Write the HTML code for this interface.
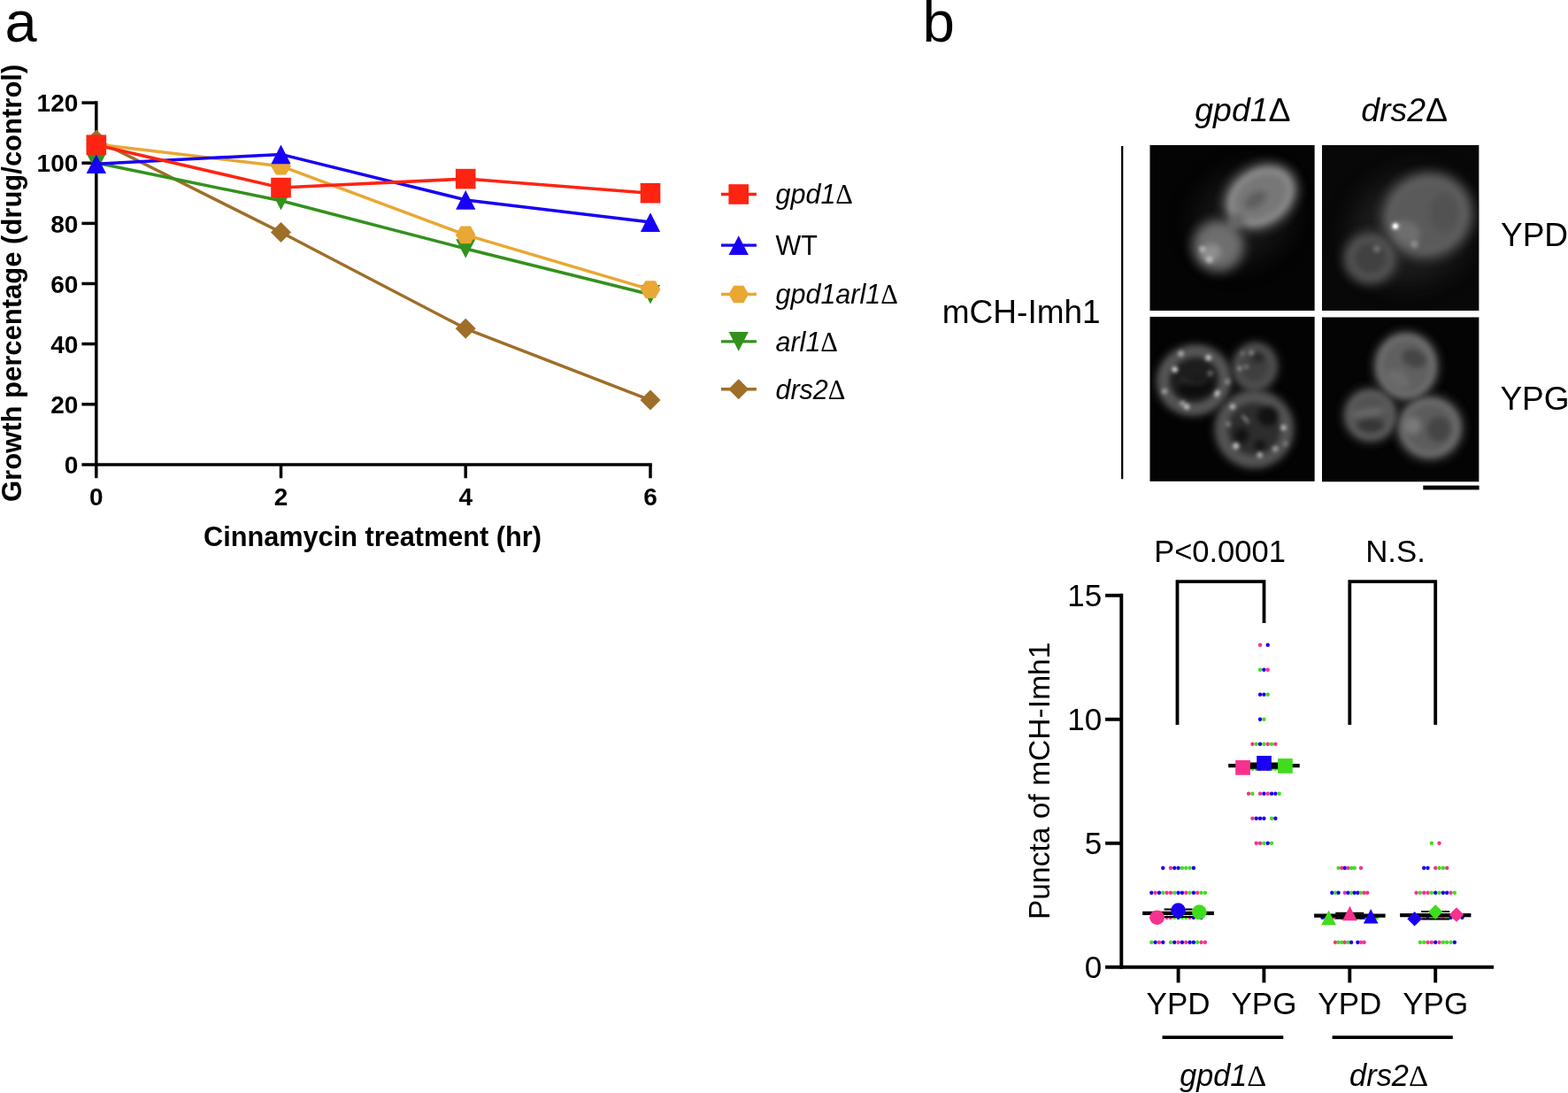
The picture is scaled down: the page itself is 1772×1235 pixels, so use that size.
<!DOCTYPE html>
<html lang="en"><head><meta charset="utf-8"><title>Figure</title>
<style>
html,body{margin:0;padding:0;background:#fff;}
body{width:1772px;height:1235px;overflow:hidden;}
svg{display:block;}
text{font-family:"Liberation Sans", sans-serif;fill:#000;}
.b{font-weight:bold;}
.i{font-style:italic;}
.sy{font-family:"Liberation Serif", serif;font-style:normal;}
</style></head><body>
<svg width="1772" height="1235" viewBox="0 0 1772 1235">
<rect x="0" y="0" width="1772" height="1235" fill="#ffffff"/>
<text x="5.5" y="47.3" font-size="65">a</text>
<text x="1042.6" y="47.3" font-size="65.5">b</text>
<g id="panelA">
<g stroke="#000" stroke-width="3.5" fill="none" stroke-linecap="butt">
<line x1="108.8" y1="114.3" x2="108.8" y2="540.3"/>
<line x1="92.4" y1="524.9" x2="736.8" y2="524.9"/>
<line x1="92.4" y1="456.8" x2="108.8" y2="456.8"/>
<line x1="92.4" y1="388.6" x2="108.8" y2="388.6"/>
<line x1="92.4" y1="320.5" x2="108.8" y2="320.5"/>
<line x1="92.4" y1="252.4" x2="108.8" y2="252.4"/>
<line x1="92.4" y1="184.2" x2="108.8" y2="184.2"/>
<line x1="92.4" y1="116.1" x2="108.8" y2="116.1"/>
<line x1="317.5" y1="524.9" x2="317.5" y2="540.3"/>
<line x1="526.2" y1="524.9" x2="526.2" y2="540.3"/>
<line x1="735.0" y1="524.9" x2="735.0" y2="540.3"/>
</g>
<polyline points="108.8,158.0 317.5,262.5 526.2,371.3 735.0,452.1" fill="none" stroke="#9f6e28" stroke-width="3.5" stroke-linejoin="round"/>
<polygon points="108.8,146.5 120.3,158.0 108.8,169.5 97.3,158.0" fill="#9f6e28"/>
<polygon points="317.5,251.0 329.0,262.5 317.5,274.0 306.0,262.5" fill="#9f6e28"/>
<polygon points="526.2,359.8 537.7,371.3 526.2,382.8 514.7,371.3" fill="#9f6e28"/>
<polygon points="735.0,440.6 746.5,452.1 735.0,463.6 723.5,452.1" fill="#9f6e28"/>
<polyline points="108.8,184.0 317.5,226.8 526.2,281.0 735.0,332.7" fill="none" stroke="#33911d" stroke-width="3.5" stroke-linejoin="round"/>
<polygon points="108.8,194.8 120.0,173.2 97.6,173.2" fill="#33911d"/>
<polygon points="317.5,237.6 328.6,216.0 306.4,216.0" fill="#33911d"/>
<polygon points="526.2,291.8 537.4,270.2 515.1,270.2" fill="#33911d"/>
<polygon points="735.0,343.5 746.1,321.9 723.9,321.9" fill="#33911d"/>
<polyline points="108.8,163.0 317.5,187.7 526.2,265.4 735.0,327.1" fill="none" stroke="#e9a733" stroke-width="3.5" stroke-linejoin="round"/>
<polygon points="120.1,163.0 114.5,172.8 103.2,172.8 97.5,163.0 103.1,153.2 114.5,153.2" fill="#e9a733"/>
<polygon points="328.8,187.7 323.1,197.5 311.9,197.5 306.2,187.7 311.9,177.9 323.1,177.9" fill="#e9a733"/>
<polygon points="537.5,265.4 531.9,275.2 520.6,275.2 514.9,265.4 520.6,255.6 531.9,255.6" fill="#e9a733"/>
<polygon points="746.3,327.1 740.6,336.9 729.4,336.9 723.7,327.1 729.4,317.3 740.6,317.3" fill="#e9a733"/>
<polyline points="108.8,185.2 317.5,174.4 526.2,225.9 735.0,251.1" fill="none" stroke="#1700f5" stroke-width="3.5" stroke-linejoin="round"/>
<polygon points="108.8,174.4 120.0,196.0 97.6,196.0" fill="#1700f5"/>
<polygon points="317.5,163.6 328.6,185.2 306.4,185.2" fill="#1700f5"/>
<polygon points="526.2,215.1 537.4,236.7 515.1,236.7" fill="#1700f5"/>
<polygon points="735.0,240.3 746.1,261.9 723.9,261.9" fill="#1700f5"/>
<polyline points="108.8,163.7 317.5,212.1 526.2,202.1 735.0,218.2" fill="none" stroke="#fd2412" stroke-width="3.5" stroke-linejoin="round"/>
<rect x="97.5" y="152.4" width="22.6" height="22.6" fill="#fd2412"/>
<rect x="306.2" y="200.8" width="22.6" height="22.6" fill="#fd2412"/>
<rect x="514.9" y="190.8" width="22.6" height="22.6" fill="#fd2412"/>
<rect x="723.7" y="206.9" width="22.6" height="22.6" fill="#fd2412"/>
<text class="b" x="88.3" y="535.1" font-size="28" text-anchor="end">0</text>
<text class="b" x="88.3" y="467.0" font-size="28" text-anchor="end">20</text>
<text class="b" x="88.3" y="398.8" font-size="28" text-anchor="end">40</text>
<text class="b" x="88.3" y="330.7" font-size="28" text-anchor="end">60</text>
<text class="b" x="88.3" y="262.6" font-size="28" text-anchor="end">80</text>
<text class="b" x="88.3" y="194.4" font-size="28" text-anchor="end">100</text>
<text class="b" x="88.3" y="126.3" font-size="28" text-anchor="end">120</text>
<text class="b" x="108.8" y="571" font-size="28" text-anchor="middle">0</text>
<text class="b" x="317.5" y="571" font-size="28" text-anchor="middle">2</text>
<text class="b" x="526.2" y="571" font-size="28" text-anchor="middle">4</text>
<text class="b" x="735.0" y="571" font-size="28" text-anchor="middle">6</text>
<text class="b" x="421" y="617.3" font-size="30.7" text-anchor="middle">Cinnamycin treatment (hr)</text>
<text class="b" transform="translate(23.6,319.9) rotate(-90)" font-size="31" text-anchor="middle">Growth percentage (drug/control)</text>
<line x1="814.9" y1="219.5" x2="854.9" y2="219.5" stroke="#fd2412" stroke-width="3.4"/>
<rect x="823.4" y="208.2" width="22.6" height="22.6" fill="#fd2412"/>
<text x="876.5" y="230.4" font-size="30.5"><tspan class="i">gpd1</tspan><tspan class="sy">Δ</tspan></text>
<line x1="814.9" y1="277.1" x2="854.9" y2="277.1" stroke="#1700f5" stroke-width="3.4"/>
<polygon points="834.7,266.3 845.9,287.9 823.6,287.9" fill="#1700f5"/>
<text x="876.5" y="288.0" font-size="30.5">WT</text>
<line x1="814.9" y1="332.5" x2="854.9" y2="332.5" stroke="#e9a733" stroke-width="3.4"/>
<polygon points="846.0,332.5 840.4,342.3 829.1,342.3 823.4,332.5 829.1,322.7 840.4,322.7" fill="#e9a733"/>
<text x="876.5" y="343.4" font-size="30.5"><tspan class="i">gpd1arl1</tspan><tspan class="sy">Δ</tspan></text>
<line x1="814.9" y1="385.9" x2="854.9" y2="385.9" stroke="#33911d" stroke-width="3.4"/>
<polygon points="834.7,396.7 845.9,375.1 823.6,375.1" fill="#33911d"/>
<text x="876.5" y="396.8" font-size="30.5"><tspan class="i">arl1</tspan><tspan class="sy">Δ</tspan></text>
<line x1="814.9" y1="439.8" x2="854.9" y2="439.8" stroke="#9f6e28" stroke-width="3.4"/>
<polygon points="834.7,428.3 846.2,439.8 834.7,451.3 823.2,439.8" fill="#9f6e28"/>
<text x="876.5" y="450.7" font-size="30.5"><tspan class="i">drs2</tspan><tspan class="sy">Δ</tspan></text>
</g>
<g id="micro">
<defs>
<filter id="bl12" color-interpolation-filters="sRGB" x="-50%" y="-50%" width="200%" height="200%"><feGaussianBlur stdDeviation="14"/></filter>
<filter id="bl5" color-interpolation-filters="sRGB" x="-30%" y="-30%" width="160%" height="160%"><feGaussianBlur stdDeviation="5"/></filter>
<filter id="bl4" color-interpolation-filters="sRGB" x="-30%" y="-30%" width="160%" height="160%"><feGaussianBlur stdDeviation="3.6"/></filter>
<filter id="bl3" color-interpolation-filters="sRGB" x="-30%" y="-30%" width="160%" height="160%"><feGaussianBlur stdDeviation="3.3"/></filter>
<filter id="bl2" color-interpolation-filters="sRGB" x="-100%" y="-100%" width="300%" height="300%"><feGaussianBlur stdDeviation="2.1"/></filter>
<filter id="bl1" color-interpolation-filters="sRGB" x="-100%" y="-100%" width="300%" height="300%"><feGaussianBlur stdDeviation="1.2"/></filter>
<clipPath id="cp1"><rect x="1299.3" y="163.9" width="186.5" height="187.2"/></clipPath>
<clipPath id="cp2"><rect x="1494.0" y="163.9" width="177.6" height="187.2"/></clipPath>
<clipPath id="cp3"><rect x="1299.3" y="357.7" width="186.5" height="186.2"/></clipPath>
<clipPath id="cp4"><rect x="1494.0" y="358.3" width="177.6" height="186.3"/></clipPath>
</defs>
<g clip-path="url(#cp1)">
<rect x="1299.3" y="163.9" width="186.5" height="187.2" fill="#040404"/>
<ellipse cx="1405.0" cy="245.0" rx="60.0" ry="50.0" transform="rotate(-40 1405.0 245.0)" fill="#191919" opacity="0.80" filter="url(#bl12)"/>
<ellipse cx="1424.5" cy="222.4" rx="48.0" ry="38.5" transform="rotate(-33 1424.5 222.4)" fill="#454545" opacity="0.90" filter="url(#bl5)"/>
<ellipse cx="1377.0" cy="277.6" rx="33.0" ry="33.0" fill="#434343" opacity="0.90" filter="url(#bl5)"/>
<g filter="url(#bl4)">
<ellipse cx="1424.5" cy="222.4" rx="36.5" ry="27.0" transform="rotate(-33 1424.5 222.4)" fill="#777777" stroke="#8b8b8b" stroke-width="8.0"/>
<ellipse cx="1419.0" cy="226.0" rx="14.0" ry="8.0" transform="rotate(-33 1419.0 226.0)" fill="#5e5e5e"/>
<ellipse cx="1377.0" cy="277.6" rx="22.5" ry="22.5" fill="#6e6e6e" stroke="#656565" stroke-width="6.0"/>
<ellipse cx="1368.0" cy="286.0" rx="12.0" ry="10.0" transform="rotate(-30 1368.0 286.0)" fill="#8f8f8f"/>
<ellipse cx="1397.0" cy="250.0" rx="10.0" ry="9.0" fill="#676767"/>
</g>
<ellipse cx="1358.6" cy="281.6" rx="3.0" ry="3.0" fill="#ffffff" opacity="0.59" filter="url(#bl2)"/>
<ellipse cx="1366.8" cy="293.4" rx="3.4" ry="3.4" fill="#ffffff" opacity="0.51" filter="url(#bl2)"/>
</g>
<g clip-path="url(#cp2)">
<rect x="1494.0" y="163.9" width="177.6" height="187.2" fill="#080808"/>
<ellipse cx="1595.0" cy="258.0" rx="70.0" ry="62.0" transform="rotate(-25 1595.0 258.0)" fill="#222222" opacity="0.80" filter="url(#bl12)"/>
<ellipse cx="1612.7" cy="243.7" rx="55.5" ry="51.5" transform="rotate(-20 1612.7 243.7)" fill="#414141" opacity="0.90" filter="url(#bl5)"/>
<ellipse cx="1548.8" cy="291.8" rx="33.5" ry="32.5" fill="#3a3a3a" opacity="0.90" filter="url(#bl5)"/>
<g filter="url(#bl4)">
<ellipse cx="1612.7" cy="243.7" rx="43.5" ry="40.0" transform="rotate(-25 1612.7 243.7)" fill="#5a5a5a" stroke="#5e5e5e" stroke-width="8.0"/>
<ellipse cx="1548.8" cy="291.8" rx="22.5" ry="21.5" fill="#414141" stroke="#535353" stroke-width="8.0"/>
<ellipse cx="1590.0" cy="262.0" rx="16.0" ry="12.0" transform="rotate(30 1590.0 262.0)" fill="#6e6e6e"/>
<ellipse cx="1632.0" cy="240.0" rx="16.0" ry="22.0" fill="#525252"/>
</g>
<ellipse cx="1576.9" cy="255.5" rx="3.6" ry="3.6" fill="#ffffff" filter="url(#bl2)"/>
<ellipse cx="1576.9" cy="255.5" rx="2.2" ry="2.2" fill="#ffffff" filter="url(#bl1)"/>
<ellipse cx="1598.5" cy="276.1" rx="4.2" ry="4.2" fill="#ffffff" opacity="0.29" filter="url(#bl2)"/>
<ellipse cx="1555.9" cy="281.3" rx="3.8" ry="3.8" fill="#ffffff" opacity="0.27" filter="url(#bl2)"/>
</g>
<g clip-path="url(#cp3)">
<rect x="1299.3" y="357.7" width="186.5" height="186.2" fill="#030303"/>
<ellipse cx="1349.5" cy="429.6" rx="45.0" ry="42.0" transform="rotate(-15 1349.5 429.6)" fill="#313131" opacity="0.90" filter="url(#bl5)"/>
<ellipse cx="1418.2" cy="414.6" rx="28.0" ry="30.0" transform="rotate(10 1418.2 414.6)" fill="#313131" opacity="0.90" filter="url(#bl5)"/>
<ellipse cx="1417.4" cy="484.8" rx="47.0" ry="46.5" fill="#313131" opacity="0.90" filter="url(#bl5)"/>
<g filter="url(#bl3)">
<ellipse cx="1349.5" cy="429.6" rx="34.5" ry="32.0" transform="rotate(-15 1349.5 429.6)" fill="#1d1d1d" stroke="#555555" stroke-width="13.0"/>
<ellipse cx="1418.2" cy="414.6" rx="19.5" ry="21.5" transform="rotate(10 1418.2 414.6)" fill="#3f3f3f" stroke="#4e4e4e" stroke-width="9.0"/>
<ellipse cx="1417.4" cy="484.8" rx="36.5" ry="36.0" fill="#2d2d2d" stroke="#535353" stroke-width="13.0"/>
<ellipse cx="1422.0" cy="404.0" rx="7.0" ry="6.0" fill="#262626"/>
<ellipse cx="1352.0" cy="438.0" rx="20.0" ry="10.0" transform="rotate(-10 1352.0 438.0)" fill="#0c0c0c"/>
<ellipse cx="1403.0" cy="492.0" rx="8.0" ry="9.0" fill="#121212"/>
<ellipse cx="1433.0" cy="470.0" rx="12.0" ry="11.0" fill="#121212"/>
<ellipse cx="1424.0" cy="503.0" rx="6.0" ry="6.0" fill="#121212"/>
<path d="M1334 428 Q1348 437 1364 430" stroke="#383838" stroke-width="3" fill="none"/>
</g>
<ellipse cx="1334.5" cy="399.6" rx="3.0" ry="3.0" fill="#ffffff" opacity="0.67" filter="url(#bl2)"/>
<ellipse cx="1365.6" cy="404.3" rx="3.0" ry="3.0" fill="#ffffff" opacity="0.84" filter="url(#bl2)"/>
<ellipse cx="1327.7" cy="417.4" rx="3.0" ry="3.0" fill="#ffffff" filter="url(#bl2)"/>
<ellipse cx="1367.6" cy="421.7" rx="3.0" ry="3.0" fill="#ffffff" opacity="0.37" filter="url(#bl2)"/>
<ellipse cx="1387.4" cy="431.2" rx="3.0" ry="3.0" fill="#ffffff" opacity="0.39" filter="url(#bl2)"/>
<ellipse cx="1316.0" cy="442.2" rx="3.0" ry="3.0" fill="#ffffff" opacity="0.55" filter="url(#bl2)"/>
<ellipse cx="1336.4" cy="455.6" rx="3.0" ry="3.0" fill="#ffffff" opacity="0.51" filter="url(#bl2)"/>
<ellipse cx="1341.1" cy="459.6" rx="3.0" ry="3.0" fill="#ffffff" opacity="0.78" filter="url(#bl2)"/>
<ellipse cx="1375.5" cy="444.6" rx="2.2" ry="3.8" transform="rotate(25 1375.5 444.6)" fill="#ffffff" opacity="0.92" filter="url(#bl2)"/>
<ellipse cx="1414.2" cy="398.8" rx="2.3" ry="2.3" fill="#ffffff" opacity="0.59" filter="url(#bl2)"/>
<ellipse cx="1404.0" cy="399.1" rx="2.3" ry="2.3" fill="#ffffff" opacity="0.31" filter="url(#bl2)"/>
<ellipse cx="1401.1" cy="416.2" rx="2.3" ry="2.3" fill="#ffffff" opacity="0.59" filter="url(#bl2)"/>
<ellipse cx="1408.4" cy="414.6" rx="2.3" ry="2.3" fill="#ffffff" opacity="0.43" filter="url(#bl2)"/>
<ellipse cx="1392.9" cy="459.6" rx="3.0" ry="3.0" fill="#ffffff" opacity="0.71" filter="url(#bl2)"/>
<ellipse cx="1388.2" cy="479.3" rx="3.0" ry="3.0" fill="#ffffff" opacity="0.35" filter="url(#bl2)"/>
<ellipse cx="1450.5" cy="483.3" rx="3.0" ry="3.0" fill="#ffffff" opacity="0.71" filter="url(#bl2)"/>
<ellipse cx="1441.1" cy="507.0" rx="3.0" ry="3.0" fill="#ffffff" opacity="0.55" filter="url(#bl2)"/>
<ellipse cx="1423.7" cy="514.1" rx="3.0" ry="3.0" fill="#ffffff" opacity="0.69" filter="url(#bl2)"/>
<ellipse cx="1452.9" cy="501.4" rx="3.0" ry="3.0" fill="#ffffff" opacity="0.27" filter="url(#bl2)"/>
<ellipse cx="1396.8" cy="503.8" rx="3.6" ry="3.6" fill="#ffffff" opacity="0.75" filter="url(#bl2)"/>
<ellipse cx="1407.5" cy="473.5" rx="1.6" ry="6.5" transform="rotate(-42 1407.5 473.5)" fill="#ffffff" opacity="0.47" filter="url(#bl2)"/>
</g>
<g clip-path="url(#cp4)">
<rect x="1494.0" y="358.3" width="177.6" height="186.3" fill="#040404"/>
<ellipse cx="1589.1" cy="413.8" rx="39.0" ry="41.5" fill="#3c3c3c" opacity="0.90" filter="url(#bl5)"/>
<ellipse cx="1548.8" cy="469.1" rx="33.0" ry="33.0" fill="#363636" opacity="0.90" filter="url(#bl5)"/>
<ellipse cx="1615.9" cy="483.3" rx="40.0" ry="39.0" fill="#3c3c3c" opacity="0.90" filter="url(#bl5)"/>
<g filter="url(#bl3)">
<ellipse cx="1589.1" cy="413.8" rx="30.5" ry="33.0" fill="#606060" stroke="#6e6e6e" stroke-width="7.0"/>
<ellipse cx="1548.8" cy="469.1" rx="24.5" ry="24.5" fill="#515151" stroke="#5c5c5c" stroke-width="7.0"/>
<ellipse cx="1615.9" cy="483.3" rx="31.0" ry="30.0" fill="#5c5c5c" stroke="#6c6c6c" stroke-width="7.0"/>
<ellipse cx="1598.0" cy="405.0" rx="14.0" ry="10.0" transform="rotate(20 1598.0 405.0)" fill="#454545"/>
<ellipse cx="1580.0" cy="428.0" rx="14.0" ry="9.0" transform="rotate(35 1580.0 428.0)" fill="#6c6c6c"/>
<ellipse cx="1547.0" cy="466.0" rx="20.0" ry="5.0" transform="rotate(-8 1547.0 466.0)" fill="#676767"/>
<ellipse cx="1549.0" cy="481.0" rx="15.0" ry="8.0" fill="#363636"/>
<ellipse cx="1597.0" cy="481.0" rx="9.0" ry="10.0" fill="#797979"/>
<ellipse cx="1626.0" cy="485.0" rx="13.0" ry="14.0" fill="#454545"/>
</g>
</g>
<rect x="1608.3" y="548.6" width="63.3" height="4.8" fill="#000"/>
<line x1="1268.2" y1="165" x2="1268.2" y2="541.2" stroke="#000" stroke-width="2.2"/>
<text x="1404.4" y="136.7" font-size="37.4" text-anchor="middle"><tspan class="i">gpd1</tspan>Δ</text>
<text x="1587.2" y="136.7" font-size="37.4" text-anchor="middle"><tspan class="i">drs2</tspan>Δ</text>
<text x="1064.8" y="365.2" font-size="37">mCH-Imh1</text>
<text x="1696.0" y="277.6" font-size="37">YPD</text>
<text x="1695.4" y="462.8" font-size="37">YPG</text>
</g>
<g id="dotplot">
<g stroke="#000" stroke-width="3.9" fill="none">
<line x1="1267.3" y1="670.8" x2="1267.3" y2="1094.8"/>
<line x1="1249.1" y1="1092.8" x2="1688" y2="1092.8"/>
<line x1="1249.1" y1="952.8" x2="1267.3" y2="952.8"/>
<line x1="1249.1" y1="812.8" x2="1267.3" y2="812.8"/>
<line x1="1249.1" y1="672.8" x2="1267.3" y2="672.8"/>
<line x1="1331.6" y1="1092.8" x2="1331.6" y2="1110.4"/>
<line x1="1428.4" y1="1092.8" x2="1428.4" y2="1110.4"/>
<line x1="1525.3" y1="1092.8" x2="1525.3" y2="1110.4"/>
<line x1="1622.2" y1="1092.8" x2="1622.2" y2="1110.4"/>
</g>
<circle cx="1314.28" cy="980.80" r="2.2" fill="#1a00f0"/>
<circle cx="1322.94" cy="980.80" r="2.2" fill="#f7318d"/>
<circle cx="1327.27" cy="980.80" r="2.2" fill="#1a00f0"/>
<circle cx="1331.60" cy="980.80" r="2.2" fill="#1a00f0"/>
<circle cx="1335.93" cy="980.80" r="2.2" fill="#40dd1e"/>
<circle cx="1340.26" cy="980.80" r="2.2" fill="#40dd1e"/>
<circle cx="1344.59" cy="980.80" r="2.2" fill="#40dd1e"/>
<circle cx="1348.92" cy="980.80" r="2.2" fill="#1a00f0"/>
<circle cx="1301.29" cy="1008.80" r="2.2" fill="#1a00f0"/>
<circle cx="1305.62" cy="1008.80" r="2.2" fill="#f7318d"/>
<circle cx="1309.95" cy="1008.80" r="2.2" fill="#1a00f0"/>
<circle cx="1314.28" cy="1008.80" r="2.2" fill="#40dd1e"/>
<circle cx="1318.61" cy="1008.80" r="2.2" fill="#f7318d"/>
<circle cx="1322.94" cy="1008.80" r="2.2" fill="#f7318d"/>
<circle cx="1327.27" cy="1008.80" r="2.2" fill="#40dd1e"/>
<circle cx="1331.60" cy="1008.80" r="2.2" fill="#1a00f0"/>
<circle cx="1335.93" cy="1008.80" r="2.2" fill="#1a00f0"/>
<circle cx="1340.26" cy="1008.80" r="2.2" fill="#f7318d"/>
<circle cx="1344.59" cy="1008.80" r="2.2" fill="#40dd1e"/>
<circle cx="1348.92" cy="1008.80" r="2.2" fill="#1a00f0"/>
<circle cx="1353.25" cy="1008.80" r="2.2" fill="#f7318d"/>
<circle cx="1357.58" cy="1008.80" r="2.2" fill="#40dd1e"/>
<circle cx="1361.91" cy="1008.80" r="2.2" fill="#40dd1e"/>
<circle cx="1301.29" cy="1036.80" r="2.2" fill="#f7318d"/>
<circle cx="1305.62" cy="1036.80" r="2.2" fill="#40dd1e"/>
<circle cx="1309.95" cy="1036.80" r="2.2" fill="#1a00f0"/>
<circle cx="1314.28" cy="1036.80" r="2.2" fill="#40dd1e"/>
<circle cx="1318.61" cy="1036.80" r="2.2" fill="#f7318d"/>
<circle cx="1322.94" cy="1036.80" r="2.2" fill="#f7318d"/>
<circle cx="1327.27" cy="1036.80" r="2.2" fill="#40dd1e"/>
<circle cx="1331.60" cy="1036.80" r="2.2" fill="#1a00f0"/>
<circle cx="1335.93" cy="1036.80" r="2.2" fill="#40dd1e"/>
<circle cx="1340.26" cy="1036.80" r="2.2" fill="#40dd1e"/>
<circle cx="1344.59" cy="1036.80" r="2.2" fill="#f7318d"/>
<circle cx="1348.92" cy="1036.80" r="2.2" fill="#1a00f0"/>
<circle cx="1353.25" cy="1036.80" r="2.2" fill="#40dd1e"/>
<circle cx="1357.58" cy="1036.80" r="2.2" fill="#1a00f0"/>
<circle cx="1301.29" cy="1064.80" r="2.2" fill="#40dd1e"/>
<circle cx="1305.62" cy="1064.80" r="2.2" fill="#1a00f0"/>
<circle cx="1309.95" cy="1064.80" r="2.2" fill="#f7318d"/>
<circle cx="1314.28" cy="1064.80" r="2.2" fill="#1a00f0"/>
<circle cx="1322.94" cy="1064.80" r="2.2" fill="#40dd1e"/>
<circle cx="1327.27" cy="1064.80" r="2.2" fill="#1a00f0"/>
<circle cx="1331.60" cy="1064.80" r="2.2" fill="#f7318d"/>
<circle cx="1335.93" cy="1064.80" r="2.2" fill="#1a00f0"/>
<circle cx="1340.26" cy="1064.80" r="2.2" fill="#f7318d"/>
<circle cx="1344.59" cy="1064.80" r="2.2" fill="#1a00f0"/>
<circle cx="1348.92" cy="1064.80" r="2.2" fill="#1a00f0"/>
<circle cx="1353.25" cy="1064.80" r="2.2" fill="#40dd1e"/>
<circle cx="1357.58" cy="1064.80" r="2.2" fill="#f7318d"/>
<circle cx="1361.91" cy="1064.80" r="2.2" fill="#f7318d"/>
<circle cx="1424.07" cy="728.80" r="2.2" fill="#f7318d"/>
<circle cx="1432.73" cy="728.80" r="2.2" fill="#1a00f0"/>
<circle cx="1424.07" cy="756.80" r="2.2" fill="#40dd1e"/>
<circle cx="1428.40" cy="756.80" r="2.2" fill="#1a00f0"/>
<circle cx="1432.73" cy="756.80" r="2.2" fill="#f7318d"/>
<circle cx="1424.07" cy="784.80" r="2.2" fill="#1a00f0"/>
<circle cx="1428.40" cy="784.80" r="2.2" fill="#1a00f0"/>
<circle cx="1432.73" cy="784.80" r="2.2" fill="#40dd1e"/>
<circle cx="1424.07" cy="812.80" r="2.2" fill="#1a00f0"/>
<circle cx="1428.40" cy="812.80" r="2.2" fill="#40dd1e"/>
<circle cx="1415.41" cy="840.80" r="2.2" fill="#f7318d"/>
<circle cx="1419.74" cy="840.80" r="2.2" fill="#40dd1e"/>
<circle cx="1424.07" cy="840.80" r="2.2" fill="#1a00f0"/>
<circle cx="1428.40" cy="840.80" r="2.2" fill="#40dd1e"/>
<circle cx="1432.73" cy="840.80" r="2.2" fill="#f7318d"/>
<circle cx="1437.06" cy="840.80" r="2.2" fill="#40dd1e"/>
<circle cx="1441.39" cy="840.80" r="2.2" fill="#f7318d"/>
<circle cx="1406.75" cy="868.80" r="2.2" fill="#f7318d"/>
<circle cx="1411.08" cy="868.80" r="2.2" fill="#1a00f0"/>
<circle cx="1415.41" cy="868.80" r="2.2" fill="#40dd1e"/>
<circle cx="1419.74" cy="868.80" r="2.2" fill="#40dd1e"/>
<circle cx="1424.07" cy="868.80" r="2.2" fill="#1a00f0"/>
<circle cx="1428.40" cy="868.80" r="2.2" fill="#f7318d"/>
<circle cx="1432.73" cy="868.80" r="2.2" fill="#1a00f0"/>
<circle cx="1437.06" cy="868.80" r="2.2" fill="#40dd1e"/>
<circle cx="1441.39" cy="868.80" r="2.2" fill="#40dd1e"/>
<circle cx="1445.72" cy="868.80" r="2.2" fill="#1a00f0"/>
<circle cx="1450.05" cy="868.80" r="2.2" fill="#f7318d"/>
<circle cx="1411.08" cy="896.80" r="2.2" fill="#f7318d"/>
<circle cx="1415.41" cy="896.80" r="2.2" fill="#40dd1e"/>
<circle cx="1424.07" cy="896.80" r="2.2" fill="#f7318d"/>
<circle cx="1428.40" cy="896.80" r="2.2" fill="#1a00f0"/>
<circle cx="1432.73" cy="896.80" r="2.2" fill="#f7318d"/>
<circle cx="1437.06" cy="896.80" r="2.2" fill="#1a00f0"/>
<circle cx="1441.39" cy="896.80" r="2.2" fill="#1a00f0"/>
<circle cx="1445.72" cy="896.80" r="2.2" fill="#40dd1e"/>
<circle cx="1415.41" cy="924.80" r="2.2" fill="#f7318d"/>
<circle cx="1419.74" cy="924.80" r="2.2" fill="#1a00f0"/>
<circle cx="1424.07" cy="924.80" r="2.2" fill="#1a00f0"/>
<circle cx="1428.40" cy="924.80" r="2.2" fill="#1a00f0"/>
<circle cx="1437.06" cy="924.80" r="2.2" fill="#40dd1e"/>
<circle cx="1441.39" cy="924.80" r="2.2" fill="#1a00f0"/>
<circle cx="1419.74" cy="952.80" r="2.2" fill="#f7318d"/>
<circle cx="1424.07" cy="952.80" r="2.2" fill="#f7318d"/>
<circle cx="1428.40" cy="952.80" r="2.2" fill="#40dd1e"/>
<circle cx="1432.73" cy="952.80" r="2.2" fill="#1a00f0"/>
<circle cx="1437.06" cy="952.80" r="2.2" fill="#40dd1e"/>
<circle cx="1512.60" cy="980.80" r="2.2" fill="#40dd1e"/>
<circle cx="1516.22" cy="980.80" r="2.2" fill="#f7318d"/>
<circle cx="1519.86" cy="980.80" r="2.2" fill="#1a00f0"/>
<circle cx="1523.48" cy="980.80" r="2.2" fill="#f7318d"/>
<circle cx="1527.12" cy="980.80" r="2.2" fill="#40dd1e"/>
<circle cx="1530.74" cy="980.80" r="2.2" fill="#40dd1e"/>
<circle cx="1538.00" cy="980.80" r="2.2" fill="#f7318d"/>
<circle cx="1505.34" cy="1008.80" r="2.2" fill="#1a00f0"/>
<circle cx="1508.96" cy="1008.80" r="2.2" fill="#40dd1e"/>
<circle cx="1512.60" cy="1008.80" r="2.2" fill="#1a00f0"/>
<circle cx="1519.86" cy="1008.80" r="2.2" fill="#f7318d"/>
<circle cx="1523.48" cy="1008.80" r="2.2" fill="#1a00f0"/>
<circle cx="1527.12" cy="1008.80" r="2.2" fill="#40dd1e"/>
<circle cx="1530.74" cy="1008.80" r="2.2" fill="#1a00f0"/>
<circle cx="1534.38" cy="1008.80" r="2.2" fill="#1a00f0"/>
<circle cx="1538.00" cy="1008.80" r="2.2" fill="#40dd1e"/>
<circle cx="1541.63" cy="1008.80" r="2.2" fill="#f7318d"/>
<circle cx="1545.26" cy="1008.80" r="2.2" fill="#f7318d"/>
<circle cx="1494.44" cy="1036.80" r="2.2" fill="#1a00f0"/>
<circle cx="1498.08" cy="1036.80" r="2.2" fill="#1a00f0"/>
<circle cx="1501.70" cy="1036.80" r="2.2" fill="#40dd1e"/>
<circle cx="1505.34" cy="1036.80" r="2.2" fill="#f7318d"/>
<circle cx="1508.96" cy="1036.80" r="2.2" fill="#f7318d"/>
<circle cx="1512.60" cy="1036.80" r="2.2" fill="#40dd1e"/>
<circle cx="1516.22" cy="1036.80" r="2.2" fill="#1a00f0"/>
<circle cx="1519.86" cy="1036.80" r="2.2" fill="#f7318d"/>
<circle cx="1523.48" cy="1036.80" r="2.2" fill="#40dd1e"/>
<circle cx="1527.12" cy="1036.80" r="2.2" fill="#1a00f0"/>
<circle cx="1530.74" cy="1036.80" r="2.2" fill="#f7318d"/>
<circle cx="1534.38" cy="1036.80" r="2.2" fill="#40dd1e"/>
<circle cx="1538.00" cy="1036.80" r="2.2" fill="#1a00f0"/>
<circle cx="1541.63" cy="1036.80" r="2.2" fill="#1a00f0"/>
<circle cx="1545.26" cy="1036.80" r="2.2" fill="#40dd1e"/>
<circle cx="1548.89" cy="1036.80" r="2.2" fill="#f7318d"/>
<circle cx="1552.52" cy="1036.80" r="2.2" fill="#40dd1e"/>
<circle cx="1556.15" cy="1036.80" r="2.2" fill="#40dd1e"/>
<circle cx="1508.96" cy="1064.80" r="2.2" fill="#f7318d"/>
<circle cx="1512.60" cy="1064.80" r="2.2" fill="#40dd1e"/>
<circle cx="1516.22" cy="1064.80" r="2.2" fill="#40dd1e"/>
<circle cx="1519.86" cy="1064.80" r="2.2" fill="#f7318d"/>
<circle cx="1523.48" cy="1064.80" r="2.2" fill="#40dd1e"/>
<circle cx="1527.12" cy="1064.80" r="2.2" fill="#1a00f0"/>
<circle cx="1534.38" cy="1064.80" r="2.2" fill="#1a00f0"/>
<circle cx="1538.00" cy="1064.80" r="2.2" fill="#f7318d"/>
<circle cx="1541.63" cy="1064.80" r="2.2" fill="#f7318d"/>
<circle cx="1617.87" cy="952.80" r="2.2" fill="#40dd1e"/>
<circle cx="1626.53" cy="952.80" r="2.2" fill="#f7318d"/>
<circle cx="1609.21" cy="980.80" r="2.2" fill="#1a00f0"/>
<circle cx="1613.54" cy="980.80" r="2.2" fill="#1a00f0"/>
<circle cx="1622.20" cy="980.80" r="2.2" fill="#f7318d"/>
<circle cx="1626.53" cy="980.80" r="2.2" fill="#40dd1e"/>
<circle cx="1630.86" cy="980.80" r="2.2" fill="#40dd1e"/>
<circle cx="1635.19" cy="980.80" r="2.2" fill="#f7318d"/>
<circle cx="1600.55" cy="1008.80" r="2.2" fill="#f7318d"/>
<circle cx="1604.88" cy="1008.80" r="2.2" fill="#40dd1e"/>
<circle cx="1609.21" cy="1008.80" r="2.2" fill="#f7318d"/>
<circle cx="1613.54" cy="1008.80" r="2.2" fill="#f7318d"/>
<circle cx="1617.87" cy="1008.80" r="2.2" fill="#40dd1e"/>
<circle cx="1622.20" cy="1008.80" r="2.2" fill="#1a00f0"/>
<circle cx="1626.53" cy="1008.80" r="2.2" fill="#40dd1e"/>
<circle cx="1630.86" cy="1008.80" r="2.2" fill="#1a00f0"/>
<circle cx="1635.19" cy="1008.80" r="2.2" fill="#1a00f0"/>
<circle cx="1639.52" cy="1008.80" r="2.2" fill="#f7318d"/>
<circle cx="1643.85" cy="1008.80" r="2.2" fill="#40dd1e"/>
<circle cx="1596.22" cy="1036.80" r="2.2" fill="#1a00f0"/>
<circle cx="1600.55" cy="1036.80" r="2.2" fill="#f7318d"/>
<circle cx="1604.88" cy="1036.80" r="2.2" fill="#40dd1e"/>
<circle cx="1609.21" cy="1036.80" r="2.2" fill="#f7318d"/>
<circle cx="1613.54" cy="1036.80" r="2.2" fill="#1a00f0"/>
<circle cx="1617.87" cy="1036.80" r="2.2" fill="#40dd1e"/>
<circle cx="1622.20" cy="1036.80" r="2.2" fill="#40dd1e"/>
<circle cx="1626.53" cy="1036.80" r="2.2" fill="#f7318d"/>
<circle cx="1630.86" cy="1036.80" r="2.2" fill="#f7318d"/>
<circle cx="1635.19" cy="1036.80" r="2.2" fill="#40dd1e"/>
<circle cx="1639.52" cy="1036.80" r="2.2" fill="#1a00f0"/>
<circle cx="1643.85" cy="1036.80" r="2.2" fill="#f7318d"/>
<circle cx="1648.18" cy="1036.80" r="2.2" fill="#40dd1e"/>
<circle cx="1652.51" cy="1036.80" r="2.2" fill="#1a00f0"/>
<circle cx="1604.88" cy="1064.80" r="2.2" fill="#40dd1e"/>
<circle cx="1609.21" cy="1064.80" r="2.2" fill="#40dd1e"/>
<circle cx="1613.54" cy="1064.80" r="2.2" fill="#f7318d"/>
<circle cx="1617.87" cy="1064.80" r="2.2" fill="#f7318d"/>
<circle cx="1622.20" cy="1064.80" r="2.2" fill="#1a00f0"/>
<circle cx="1626.53" cy="1064.80" r="2.2" fill="#f7318d"/>
<circle cx="1630.86" cy="1064.80" r="2.2" fill="#40dd1e"/>
<circle cx="1635.19" cy="1064.80" r="2.2" fill="#40dd1e"/>
<circle cx="1639.52" cy="1064.80" r="2.2" fill="#40dd1e"/>
<circle cx="1643.85" cy="1064.80" r="2.2" fill="#1a00f0"/>
<line x1="1291.2" y1="1031.8" x2="1371.9" y2="1031.8" stroke="#000" stroke-width="4.2"/>
<path d="M1315.6 1027.6H1347.6M1315.6 1036.0H1347.6M1331.6 1027.6V1036.0" stroke="#000" stroke-width="2" fill="none"/>
<line x1="1388.2" y1="865.2" x2="1468.7" y2="865.2" stroke="#000" stroke-width="4.2"/>
<path d="M1412.4 862.6H1444.4M1412.4 867.8H1444.4M1428.4 862.6V867.8" stroke="#000" stroke-width="2" fill="none"/>
<line x1="1485.1" y1="1034.6" x2="1565.6" y2="1034.6" stroke="#000" stroke-width="4.2"/>
<path d="M1509.3 1031.8H1541.3M1509.3 1037.4H1541.3M1525.3 1031.8V1037.4" stroke="#000" stroke-width="2" fill="none"/>
<line x1="1582.1" y1="1034.2" x2="1662.4" y2="1034.2" stroke="#000" stroke-width="4.2"/>
<path d="M1606.2 1030.0H1638.2M1606.2 1038.4H1638.2M1622.2 1030.0V1038.4" stroke="#000" stroke-width="2" fill="none"/>
<circle cx="1307.6" cy="1036.7" r="8.3" fill="#f7318d"/>
<circle cx="1331.5" cy="1028.6" r="8.3" fill="#1a00f0"/>
<circle cx="1355.4" cy="1030.5" r="8.3" fill="#40dd1e"/>
<rect x="1396.2" y="859.0" width="16.7" height="16.7" fill="#f7318d"/>
<rect x="1420.2" y="854.0" width="16.7" height="16.7" fill="#1a00f0"/>
<rect x="1444.1" y="857.1" width="16.7" height="16.7" fill="#40dd1e"/>
<polygon points="1501.6,1028.5 1509.9,1045.3 1493.2,1045.3" fill="#40dd1e"/>
<polygon points="1525.4,1023.7 1533.8,1040.2 1517.1,1040.2" fill="#f7318d"/>
<polygon points="1549.2,1027.1 1557.5,1043.6 1540.9,1043.6" fill="#1a00f0"/>
<polygon points="1598.6,1030.0 1606.9,1038.3 1598.6,1046.6 1590.3,1038.3" fill="#1a00f0"/>
<polygon points="1622.2,1022.1 1630.5,1030.4 1622.2,1038.7 1613.9,1030.4" fill="#40dd1e"/>
<polygon points="1646.0,1025.2 1654.3,1033.5 1646.0,1041.8 1637.7,1033.5" fill="#f7318d"/>
<path d="M1330.5 819.1V657.1H1428.5V703.9" stroke="#000" stroke-width="3.8" fill="none" stroke-linejoin="miter"/>
<path d="M1525.3 819.1V657.1H1622.2V819.1" stroke="#000" stroke-width="3.8" fill="none" stroke-linejoin="miter"/>
<text x="1378.5" y="634.8" font-size="34.5" text-anchor="middle">P&lt;0.0001</text>
<text x="1577" y="634.8" font-size="34.8" text-anchor="middle">N.S.</text>
<text x="1245.2" y="1105.4" font-size="35" text-anchor="end">0</text>
<text x="1245.2" y="965.4" font-size="35" text-anchor="end">5</text>
<text x="1245.2" y="825.4" font-size="35" text-anchor="end">10</text>
<text x="1245.2" y="685.4" font-size="35" text-anchor="end">15</text>
<text x="1331.6" y="1145.5" font-size="35" text-anchor="middle">YPD</text>
<text x="1428.4" y="1145.5" font-size="35" text-anchor="middle">YPG</text>
<text x="1525.3" y="1145.5" font-size="35" text-anchor="middle">YPD</text>
<text x="1622.2" y="1145.5" font-size="35" text-anchor="middle">YPG</text>
<line x1="1313.5" y1="1172.1" x2="1450.3" y2="1172.1" stroke="#000" stroke-width="3.8"/>
<line x1="1505.6" y1="1172.1" x2="1641.8" y2="1172.1" stroke="#000" stroke-width="3.8"/>
<text x="1382.3" y="1226.6" font-size="34.2" text-anchor="middle"><tspan class="i">gpd1</tspan><tspan class="sy">Δ</tspan></text>
<text x="1569.6" y="1226.6" font-size="34.4" text-anchor="middle"><tspan class="i">drs2</tspan><tspan class="sy">Δ</tspan></text>
<text transform="translate(1186.3,882.3) rotate(-90)" font-size="33.6" text-anchor="middle">Puncta of mCH-Imh1</text>
</g>
</svg></body></html>
